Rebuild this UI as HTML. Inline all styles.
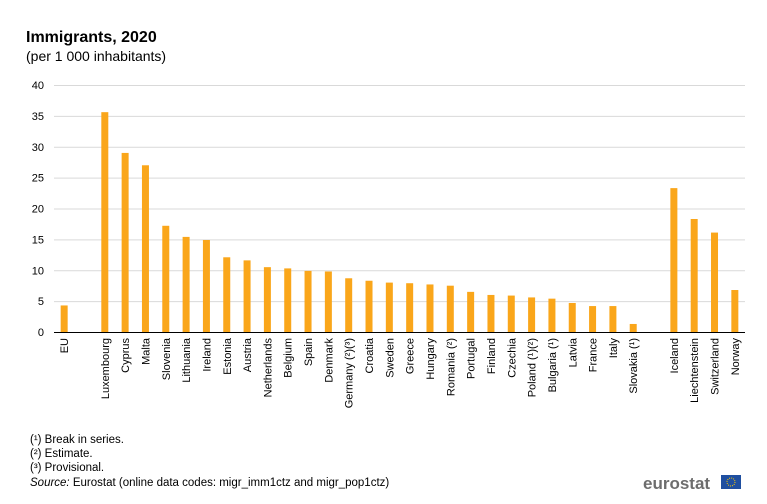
<!DOCTYPE html>
<html><head><meta charset="utf-8"><style>
body{margin:0;background:#fff;font-family:"Liberation Sans",Arial,sans-serif;}
svg text{font-family:"Liberation Sans",Arial,sans-serif;}
</style></head><body>
<svg id="chart" width="767" height="499" viewBox="0 0 767 499" xmlns="http://www.w3.org/2000/svg">
<text x="26" y="42" font-size="16" font-weight="bold" fill="#000">Immigrants, 2020</text>
<text x="26" y="61" font-size="14" fill="#000">(per 1 000 inhabitants)</text>
<g id="grid"></g>
<g id="yticks"></g>
<g id="bars"></g>
<g id="xlabels"></g>
<line x1="54" y1="332.5" x2="745" y2="332.5" stroke="#000" stroke-width="1"/>
<text x="30" y="443" font-size="11.5" fill="#000">(¹) Break in series.</text>
<text x="30" y="457" font-size="11.5" fill="#000">(²) Estimate.</text>
<text x="30" y="471" font-size="11.5" fill="#000">(³) Provisional.</text>
<text x="30" y="486" font-size="11.5" fill="#000"><tspan font-style="italic">Source:</tspan> Eurostat (online data codes: migr_imm1ctz and migr_pop1ctz)</text>
<text x="643" y="489" font-size="17" font-weight="bold" fill="#6d6d6d">eurostat</text>
<g>
<rect x="721" y="475" width="20" height="14" fill="#1f4fa0"/>
<circle cx="731" cy="482" r="4" fill="none" stroke="#ffcc00" stroke-width="1" stroke-dasharray="1 1.1"/>
</g>
</svg>
<script>
const categories=["EU","","Luxembourg","Cyprus","Malta","Slovenia","Lithuania","Ireland","Estonia","Austria","Netherlands","Belgium","Spain","Denmark","Germany (²)(³)","Croatia","Sweden","Greece","Hungary","Romania (²)","Portugal","Finland","Czechia","Poland (¹)(²)","Bulgaria (¹)","Latvia","France","Italy","Slovakia (¹)","","Iceland","Liechtenstein","Switzerland","Norway"];
const values=[4.3,null,35.6,29.0,27.0,17.2,15.4,14.9,12.1,11.6,10.5,10.3,9.9,9.8,8.7,8.3,8.0,7.9,7.7,7.5,6.5,6.0,5.9,5.6,5.4,4.7,4.2,4.2,1.3,null,23.3,18.3,16.1,6.8];
const yTicks=[0,5,10,15,20,25,30,35,40];
const NS="http://www.w3.org/2000/svg";
const x0=54,x1=745,y0=332,yTop=85,yMax=40;
const slot=(x1-x0)/categories.length;
const yS=v=>y0-(v/yMax)*(y0-yTop);
const xC=i=>x0+slot*(i+0.5);
const grid=document.getElementById('grid'),yt=document.getElementById('yticks'),bars=document.getElementById('bars'),xl=document.getElementById('xlabels');
yTicks.forEach(t=>{
 if(t>0){const l=document.createElementNS(NS,'line');
 
 
 l.setAttribute('x1',x0);l.setAttribute('x2',x1);l.setAttribute('y1',yS(t)+0.5);l.setAttribute('y2',yS(t)+0.5);l.setAttribute('stroke','#d9d9d9');grid.appendChild(l);}
 const tx=document.createElementNS(NS,'text');
 
 
 tx.setAttribute('x',44);tx.setAttribute('y',yS(t)+4);tx.setAttribute('text-anchor','end');tx.setAttribute('font-size','11');tx.textContent=t;yt.appendChild(tx);
});
categories.forEach((c,i)=>{
 if(values[i]==null)return;
 const r=document.createElementNS(NS,'rect');
 
 
 r.setAttribute('x',xC(i)-3.5);r.setAttribute('width',7);r.setAttribute('y',yS(values[i]));r.setAttribute('height',y0-yS(values[i]));r.setAttribute('fill','#faa61a');bars.appendChild(r);
 const tx=document.createElementNS(NS,'text');
 
 
 const cx=xC(i)+4,cy=338;
 tx.setAttribute('x',cx);tx.setAttribute('y',cy);tx.setAttribute('text-anchor','end');tx.setAttribute('font-size','11');
 tx.setAttribute('transform','rotate(-90 '+cx+' '+cy+')');tx.textContent=c;xl.appendChild(tx);
});
</script>
</body></html>
